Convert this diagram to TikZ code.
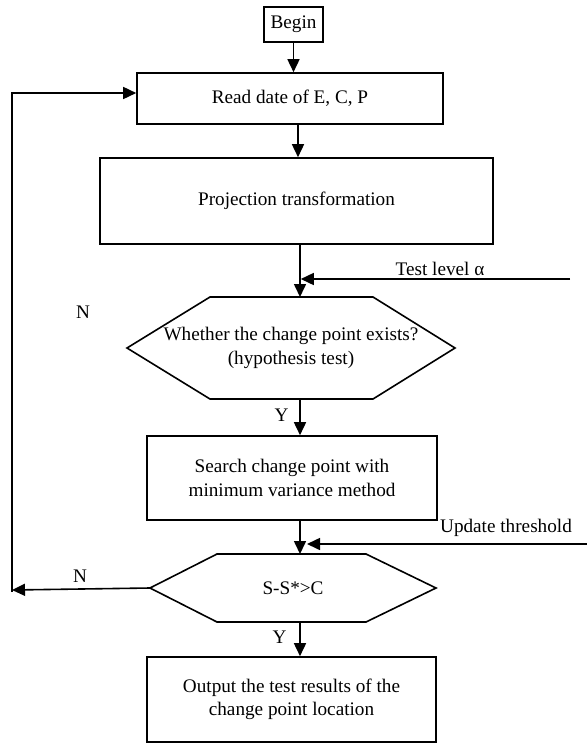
\documentclass[tikz,border=0pt]{standalone}
\usepackage{fontspec}
\setmainfont{Liberation Serif}
\usetikzlibrary{arrows.meta}
\begin{document}
\begin{tikzpicture}[x=0.5pt,y=-0.5pt,line width=0.8pt,
    >={Triangle[length=6.5pt,width=6pt]},
    every node/.style={font=\fontsize{9.6}{11.8}\selectfont},
    box/.style={draw,align=center,inner sep=0pt},
    hexnode/.style={align=center,inner sep=0pt,outer sep=0pt}]
      \useasboundingbox (0,0) rectangle (587,744);
      \coordinate (axis) at (300,0);

      \node[box,minimum width=29.5pt,minimum height=17.5pt] (begin) at (293.5,24.5) {Begin};
      \node[box,minimum width=153pt,minimum height=25.5pt] (read) at (290,98.5) {Read date of E, C, P};
      \node[box,minimum width=196.5pt,minimum height=43pt] (proj) at (296.5,201) {Projection transformation};
      \node[hexnode,minimum width=164pt,minimum height=51pt] (exist) at (291,348) {Whether the change point exists?\\(hypothesis test)};
      \node[box,minimum width=145pt,minimum height=42pt] (search) at (292,478) {Search change point with\\minimum variance method};
      \node[hexnode,minimum width=143pt,minimum height=34pt] (judge) at (293,588) {S-S*>C};
      \node[box,minimum width=144.5pt,minimum height=42.5pt] (result) at (291.5,699.5) {Output the test results of the\\change point location};

      % hexagon outlines
      \draw (exist.west) -- ([xshift=41.5pt]exist.north west) -- ([xshift=-41pt]exist.north east)
        -- (exist.east) -- ([xshift=-41pt]exist.south east) -- ([xshift=41.5pt]exist.south west) -- cycle;
      \draw (judge.west) -- ([xshift=33.5pt]judge.north west) -- ([xshift=-35pt]judge.north east)
        -- (judge.east) -- ([xshift=-35pt]judge.south east) -- ([xshift=33.5pt]judge.south west) -- cycle;

      % main flow
      \draw[->] (begin.south) -- (begin.south |- read.north);
      \draw[->] ([xshift=4pt]read.south) -- ([xshift=4pt]read.south |- proj.north);
      \draw[->] (proj.south -| axis) -- (exist.north -| axis);
      \draw[->] (exist.south -| axis) -- (search.north -| axis) node[pos=0.45,left=2pt] {Y};
      \draw[->] (search.south -| axis) -- (judge.north -| axis);
      \draw[->] (judge.south -| axis) -- (result.north -| axis) node[pos=0.45,left=3pt] {Y};

      % side inputs
      \coordinate (lvl) at (570,279);
      \coordinate (upd) at (587,544);
      \draw[->] (lvl) -- ([xshift=0.4pt]lvl -| axis);
      \node at (440,269) {Test level α};
      \draw[->] (upd) -- ([xshift=3.5pt]upd -| axis);
      \node at (506,528) {Update threshold};

      % feedback loop
      \coordinate (fbl) at (12,590);
      \coordinate (fbr) at ([yshift=2.75pt]read.west);
      \draw[->] (judge.west) -- (fbl);
      \draw[->] ([yshift=-1pt]fbl) -- (fbl |- fbr) -- (fbr);
      \node at (83,312) {N};
      \node at (80,576) {N};
    \end{tikzpicture}
\end{document}
